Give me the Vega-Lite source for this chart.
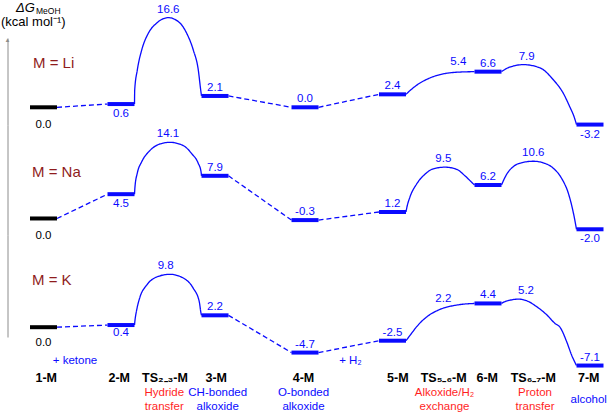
{
  "$schema": "https://vega.github.io/schema/vega-lite/v6.json",
  "description": "Free energy profiles for ketone hydrogenation with M = Li, Na, K.",
  "padding": {"top": 2, "left": 0, "right": 0, "bottom": 0},
  "spacing": 0,
  "bounds": "flush",
  "background": "white",
  "resolve": {"scale": {"x": "independent", "y": "independent"}},
  "config": {
    "view": {"stroke": null},
    "text": {"font": "Liberation Sans"},
    "locale": {"number": {"decimal": ".", "thousands": ",", "grouping": [3], "currency": ["$", ""], "minus": "-"}}
  },
  "datasets": {
    "levels": [
      {"metal": "Li", "state": "1-M", "rc": 4.35, "G": 0.0, "side": "start"},
      {"metal": "Li", "state": "2-M", "rc": 12.1, "G": 0.6, "side": "below"},
      {"metal": "Li", "state": "3-M", "rc": 21.5, "G": 2.1, "side": "above"},
      {"metal": "Li", "state": "4-M", "rc": 30.5, "G": 0.0, "side": "above"},
      {"metal": "Li", "state": "5-M", "rc": 39.25, "G": 2.4, "side": "above"},
      {"metal": "Li", "state": "6-M", "rc": 48.8, "G": 6.6, "side": "above"},
      {"metal": "Li", "state": "7-M", "rc": 59.0, "G": -3.2, "side": "below"},
      {"metal": "Na", "state": "1-M", "rc": 4.35, "G": 0.0, "side": "start"},
      {"metal": "Na", "state": "2-M", "rc": 12.1, "G": 4.5, "side": "below"},
      {"metal": "Na", "state": "3-M", "rc": 21.5, "G": 7.9, "side": "above"},
      {"metal": "Na", "state": "4-M", "rc": 30.5, "G": -0.3, "side": "above"},
      {"metal": "Na", "state": "5-M", "rc": 39.25, "G": 1.2, "side": "above"},
      {"metal": "Na", "state": "6-M", "rc": 48.8, "G": 6.2, "side": "above"},
      {"metal": "Na", "state": "7-M", "rc": 59.0, "G": -2.0, "side": "below"},
      {"metal": "K", "state": "1-M", "rc": 4.35, "G": 0.0, "side": "start"},
      {"metal": "K", "state": "2-M", "rc": 12.1, "G": 0.4, "side": "below"},
      {"metal": "K", "state": "3-M", "rc": 21.5, "G": 2.2, "side": "above"},
      {"metal": "K", "state": "4-M", "rc": 30.5, "G": -4.7, "side": "above"},
      {"metal": "K", "state": "5-M", "rc": 39.25, "G": -2.5, "side": "above"},
      {"metal": "K", "state": "6-M", "rc": 48.8, "G": 4.4, "side": "above"},
      {"metal": "K", "state": "7-M", "rc": 59.0, "G": -7.1, "side": "above"}
    ],
    "ts": [
      {"metal": "Li", "state": "TS2-3", "rc": 16.83, "G": 16.6, "side": "peak"},
      {"metal": "Li", "state": "TS5-6", "rc": 45.83, "G": 5.4, "side": "high"},
      {"metal": "Li", "state": "TS6-7", "rc": 52.67, "G": 7.9, "side": "peak"},
      {"metal": "Na", "state": "TS2-3", "rc": 16.8, "G": 14.1, "side": "peak"},
      {"metal": "Na", "state": "TS5-6", "rc": 44.33, "G": 9.5, "side": "peak"},
      {"metal": "Na", "state": "TS6-7", "rc": 53.33, "G": 10.6, "side": "peak"},
      {"metal": "K", "state": "TS2-3", "rc": 16.57, "G": 9.8, "side": "peak"},
      {"metal": "K", "state": "TS5-6", "rc": 44.33, "G": 2.2, "side": "high"},
      {"metal": "K", "state": "TS6-7", "rc": 52.6, "G": 5.2, "side": "peak"}
    ],
    "paths": [
      {"metal": "Li", "seg": "a", "kind": "dash", "rc": 5.7, "G": 0.0},
      {"metal": "Li", "seg": "a", "kind": "dash", "rc": 10.75, "G": 0.6},
      {"metal": "Li", "seg": "b", "kind": "curve", "rc": 13.45, "G": 0.6},
      {"metal": "Li", "seg": "b", "kind": "curve", "rc": 13.47, "G": 3.2},
      {"metal": "Li", "seg": "b", "kind": "curve", "rc": 13.73, "G": 6.9},
      {"metal": "Li", "seg": "b", "kind": "curve", "rc": 14.17, "G": 10.6},
      {"metal": "Li", "seg": "b", "kind": "curve", "rc": 14.83, "G": 13.7},
      {"metal": "Li", "seg": "b", "kind": "curve", "rc": 15.67, "G": 15.6},
      {"metal": "Li", "seg": "b", "kind": "curve", "rc": 16.83, "G": 16.6},
      {"metal": "Li", "seg": "b", "kind": "curve", "rc": 18.0, "G": 15.6},
      {"metal": "Li", "seg": "b", "kind": "curve", "rc": 18.67, "G": 13.7},
      {"metal": "Li", "seg": "b", "kind": "curve", "rc": 19.33, "G": 10.6},
      {"metal": "Li", "seg": "b", "kind": "curve", "rc": 19.83, "G": 6.9},
      {"metal": "Li", "seg": "b", "kind": "curve", "rc": 20.07, "G": 3.2},
      {"metal": "Li", "seg": "b", "kind": "curve", "rc": 20.15, "G": 2.1},
      {"metal": "Li", "seg": "c", "kind": "dash", "rc": 22.85, "G": 2.1},
      {"metal": "Li", "seg": "c", "kind": "dash", "rc": 29.15, "G": 0.0},
      {"metal": "Li", "seg": "d", "kind": "dash", "rc": 31.85, "G": 0.0},
      {"metal": "Li", "seg": "d", "kind": "dash", "rc": 37.9, "G": 2.4},
      {"metal": "Li", "seg": "e", "kind": "curve", "rc": 40.6, "G": 2.4},
      {"metal": "Li", "seg": "e", "kind": "curve", "rc": 41.0, "G": 3.1},
      {"metal": "Li", "seg": "e", "kind": "curve", "rc": 41.6, "G": 4.0},
      {"metal": "Li", "seg": "e", "kind": "curve", "rc": 42.7, "G": 5.2},
      {"metal": "Li", "seg": "e", "kind": "curve", "rc": 44.0, "G": 6.05},
      {"metal": "Li", "seg": "e", "kind": "curve", "rc": 45.7, "G": 6.5},
      {"metal": "Li", "seg": "e", "kind": "curve", "rc": 47.45, "G": 6.6},
      {"metal": "Li", "seg": "f", "kind": "curve", "rc": 50.15, "G": 6.6},
      {"metal": "Li", "seg": "f", "kind": "curve", "rc": 50.67, "G": 7.2},
      {"metal": "Li", "seg": "f", "kind": "curve", "rc": 51.33, "G": 7.65},
      {"metal": "Li", "seg": "f", "kind": "curve", "rc": 52.33, "G": 7.9},
      {"metal": "Li", "seg": "f", "kind": "curve", "rc": 54.0, "G": 7.3},
      {"metal": "Li", "seg": "f", "kind": "curve", "rc": 55.33, "G": 5.1},
      {"metal": "Li", "seg": "f", "kind": "curve", "rc": 56.33, "G": 2.6},
      {"metal": "Li", "seg": "f", "kind": "curve", "rc": 57.0, "G": 0.0},
      {"metal": "Li", "seg": "f", "kind": "curve", "rc": 57.4, "G": -1.7},
      {"metal": "Li", "seg": "f", "kind": "curve", "rc": 57.65, "G": -3.2},
      {"metal": "Na", "seg": "a", "kind": "dash", "rc": 5.7, "G": 0.0},
      {"metal": "Na", "seg": "a", "kind": "dash", "rc": 10.75, "G": 4.5},
      {"metal": "Na", "seg": "b", "kind": "curve", "rc": 13.45, "G": 4.5},
      {"metal": "Na", "seg": "b", "kind": "curve", "rc": 13.5, "G": 5.9},
      {"metal": "Na", "seg": "b", "kind": "curve", "rc": 13.73, "G": 8.4},
      {"metal": "Na", "seg": "b", "kind": "curve", "rc": 14.17, "G": 10.5},
      {"metal": "Na", "seg": "b", "kind": "curve", "rc": 15.0, "G": 12.6},
      {"metal": "Na", "seg": "b", "kind": "curve", "rc": 16.0, "G": 13.8},
      {"metal": "Na", "seg": "b", "kind": "curve", "rc": 17.0, "G": 14.1},
      {"metal": "Na", "seg": "b", "kind": "curve", "rc": 18.33, "G": 13.5},
      {"metal": "Na", "seg": "b", "kind": "curve", "rc": 19.17, "G": 12.0},
      {"metal": "Na", "seg": "b", "kind": "curve", "rc": 19.83, "G": 10.2},
      {"metal": "Na", "seg": "b", "kind": "curve", "rc": 20.1, "G": 8.7},
      {"metal": "Na", "seg": "b", "kind": "curve", "rc": 20.15, "G": 7.9},
      {"metal": "Na", "seg": "c", "kind": "dash", "rc": 22.85, "G": 7.9},
      {"metal": "Na", "seg": "c", "kind": "dash", "rc": 29.15, "G": -0.3},
      {"metal": "Na", "seg": "d", "kind": "dash", "rc": 31.85, "G": -0.3},
      {"metal": "Na", "seg": "d", "kind": "dash", "rc": 37.9, "G": 1.2},
      {"metal": "Na", "seg": "e", "kind": "curve", "rc": 40.6, "G": 1.2},
      {"metal": "Na", "seg": "e", "kind": "curve", "rc": 40.67, "G": 1.9},
      {"metal": "Na", "seg": "e", "kind": "curve", "rc": 41.0, "G": 4.0},
      {"metal": "Na", "seg": "e", "kind": "curve", "rc": 41.67, "G": 6.4},
      {"metal": "Na", "seg": "e", "kind": "curve", "rc": 42.5, "G": 8.2},
      {"metal": "Na", "seg": "e", "kind": "curve", "rc": 43.33, "G": 9.2},
      {"metal": "Na", "seg": "e", "kind": "curve", "rc": 44.5, "G": 9.5},
      {"metal": "Na", "seg": "e", "kind": "curve", "rc": 45.67, "G": 9.1},
      {"metal": "Na", "seg": "e", "kind": "curve", "rc": 46.5, "G": 7.9},
      {"metal": "Na", "seg": "e", "kind": "curve", "rc": 47.17, "G": 6.7},
      {"metal": "Na", "seg": "e", "kind": "curve", "rc": 47.45, "G": 6.2},
      {"metal": "Na", "seg": "f", "kind": "curve", "rc": 50.15, "G": 6.2},
      {"metal": "Na", "seg": "f", "kind": "curve", "rc": 50.67, "G": 8.2},
      {"metal": "Na", "seg": "f", "kind": "curve", "rc": 51.33, "G": 9.6},
      {"metal": "Na", "seg": "f", "kind": "curve", "rc": 52.33, "G": 10.4},
      {"metal": "Na", "seg": "f", "kind": "curve", "rc": 53.33, "G": 10.6},
      {"metal": "Na", "seg": "f", "kind": "curve", "rc": 54.33, "G": 10.3},
      {"metal": "Na", "seg": "f", "kind": "curve", "rc": 55.33, "G": 9.3},
      {"metal": "Na", "seg": "f", "kind": "curve", "rc": 56.17, "G": 7.4},
      {"metal": "Na", "seg": "f", "kind": "curve", "rc": 56.83, "G": 4.7},
      {"metal": "Na", "seg": "f", "kind": "curve", "rc": 57.27, "G": 1.6},
      {"metal": "Na", "seg": "f", "kind": "curve", "rc": 57.45, "G": 0.0},
      {"metal": "Na", "seg": "f", "kind": "curve", "rc": 57.65, "G": -2.0},
      {"metal": "K", "seg": "a", "kind": "dash", "rc": 5.7, "G": 0.0},
      {"metal": "K", "seg": "a", "kind": "dash", "rc": 10.75, "G": 0.4},
      {"metal": "K", "seg": "b", "kind": "curve", "rc": 13.45, "G": 0.4},
      {"metal": "K", "seg": "b", "kind": "curve", "rc": 13.5, "G": 1.3},
      {"metal": "K", "seg": "b", "kind": "curve", "rc": 13.67, "G": 3.2},
      {"metal": "K", "seg": "b", "kind": "curve", "rc": 14.0, "G": 5.6},
      {"metal": "K", "seg": "b", "kind": "curve", "rc": 14.67, "G": 7.8},
      {"metal": "K", "seg": "b", "kind": "curve", "rc": 15.67, "G": 9.3},
      {"metal": "K", "seg": "b", "kind": "curve", "rc": 17.0, "G": 9.8},
      {"metal": "K", "seg": "b", "kind": "curve", "rc": 18.33, "G": 9.1},
      {"metal": "K", "seg": "b", "kind": "curve", "rc": 19.33, "G": 7.2},
      {"metal": "K", "seg": "b", "kind": "curve", "rc": 19.93, "G": 4.7},
      {"metal": "K", "seg": "b", "kind": "curve", "rc": 20.1, "G": 2.6},
      {"metal": "K", "seg": "b", "kind": "curve", "rc": 20.15, "G": 2.2},
      {"metal": "K", "seg": "c", "kind": "dash", "rc": 22.85, "G": 2.2},
      {"metal": "K", "seg": "c", "kind": "dash", "rc": 29.15, "G": -4.7},
      {"metal": "K", "seg": "d", "kind": "dash", "rc": 31.85, "G": -4.7},
      {"metal": "K", "seg": "d", "kind": "dash", "rc": 37.9, "G": -2.5},
      {"metal": "K", "seg": "e", "kind": "curve", "rc": 40.6, "G": -2.5},
      {"metal": "K", "seg": "e", "kind": "curve", "rc": 41.17, "G": -1.1},
      {"metal": "K", "seg": "e", "kind": "curve", "rc": 41.67, "G": 0.1},
      {"metal": "K", "seg": "e", "kind": "curve", "rc": 42.67, "G": 1.9},
      {"metal": "K", "seg": "e", "kind": "curve", "rc": 44.0, "G": 3.3},
      {"metal": "K", "seg": "e", "kind": "curve", "rc": 45.67, "G": 4.1},
      {"metal": "K", "seg": "e", "kind": "curve", "rc": 47.45, "G": 4.4},
      {"metal": "K", "seg": "f", "kind": "curve", "rc": 50.15, "G": 4.4},
      {"metal": "K", "seg": "f", "kind": "curve", "rc": 50.33, "G": 4.6},
      {"metal": "K", "seg": "f", "kind": "curve", "rc": 51.0, "G": 5.0},
      {"metal": "K", "seg": "f", "kind": "curve", "rc": 51.83, "G": 5.2},
      {"metal": "K", "seg": "f", "kind": "curve", "rc": 52.67, "G": 4.9},
      {"metal": "K", "seg": "f", "kind": "curve", "rc": 53.67, "G": 3.8},
      {"metal": "K", "seg": "f", "kind": "curve", "rc": 54.67, "G": 2.3},
      {"metal": "K", "seg": "f", "kind": "curve", "rc": 55.5, "G": 0.7},
      {"metal": "K", "seg": "f", "kind": "curve", "rc": 56.0, "G": 0.0},
      {"metal": "K", "seg": "f", "kind": "curve", "rc": 56.67, "G": -2.7},
      {"metal": "K", "seg": "f", "kind": "curve", "rc": 57.17, "G": -5.2},
      {"metal": "K", "seg": "f", "kind": "curve", "rc": 57.65, "G": -7.1}
    ],
    "names": [
      {"row": "add", "rc": 7.5, "text": "+ ketone", "lines": 1},
      {"row": "add", "rc": 35.05, "text": "+ H₂", "lines": 1},
      {"row": "state", "rc": 4.62, "text": "1-M", "lines": 1},
      {"row": "state", "rc": 11.92, "text": "2-M", "lines": 1},
      {"row": "state", "rc": 16.5, "text": "TS₂₋₃-M", "lines": 1},
      {"row": "state", "rc": 21.62, "text": "3-M", "lines": 1},
      {"row": "state", "rc": 30.35, "text": "4-M", "lines": 1},
      {"row": "state", "rc": 39.78, "text": "5-M", "lines": 1},
      {"row": "state", "rc": 44.37, "text": "TS₅₋₆-M", "lines": 1},
      {"row": "state", "rc": 48.72, "text": "6-M", "lines": 1},
      {"row": "state", "rc": 53.33, "text": "TS₆₋₇-M", "lines": 1},
      {"row": "state", "rc": 58.87, "text": "7-M", "lines": 1},
      {"row": "desc", "type": "ts", "rc": 16.43, "text": "Hydride\ntransfer", "lines": 2},
      {"row": "desc", "type": "int", "rc": 21.77, "text": "CH-bonded\nalkoxide", "lines": 2},
      {"row": "desc", "type": "int", "rc": 30.35, "text": "O-bonded\nalkoxide", "lines": 2},
      {"row": "desc", "type": "ts", "rc": 44.45, "text": "Alkoxide/H₂\nexchange", "lines": 2},
      {"row": "desc", "type": "ts", "rc": 53.5, "text": "Proton\ntransfer", "lines": 2},
      {"row": "desc", "type": "int", "rc": 58.87, "text": "alcohol", "lines": 1}
    ]
  },
  "vconcat": [
    {
      "width": 614,
      "height": 87,
      "encoding": {
        "x": {"field": "rc", "type": "quantitative", "scale": {"domain": [0, 61.4], "nice": false, "zero": false}, "axis": null},
        "y": {"field": "G", "type": "quantitative", "scale": {"domain": [-3.278, 12.833], "nice": false, "zero": false},
              "axis": {"domain": true, "domainColor": "#8c8c8c", "domainWidth": 1, "ticks": false, "labels": false, "grid": false, "title": null, "offset": -7.5}}
      },
      "layer": [
        {
          "data": {"values": [{"note": "Li zero line"}]},
          "mark": {"type": "rule", "color": "#333333", "strokeDash": [4, 3], "strokeWidth": 1},
          "encoding": {
            "x": {"datum": 5.73, "type": "quantitative", "axis": null},
            "x2": {"datum": 61.4},
            "y": {"datum": 0, "type": "quantitative", "axis": {"domain": true, "domainColor": "#8c8c8c", "domainWidth": 1, "ticks": false, "labels": false, "grid": false, "title": null, "offset": -7.5}}
          }
        },
        {
          "data": {"name": "paths"},
          "transform": [{"filter": "datum.metal === 'Li'"}],
          "mark": {"type": "line", "interpolate": "monotone", "strokeWidth": 1.3, "color": "#0a0aff"},
          "encoding": {
            "detail": {"field": "seg"},
            "strokeDash": {"field": "kind", "type": "nominal", "scale": {"domain": ["curve", "dash"], "range": [[1, 0], [5, 3]]}, "legend": null}
          }
        },
        {
          "data": {"name": "levels"},
          "transform": [{"filter": "datum.metal === 'Li'"}],
          "mark": {"type": "tick", "orient": "horizontal", "size": 27, "thickness": 4, "opacity": 1},
          "encoding": {"color": {"condition": {"test": "datum.state === '1-M'", "value": "#000000"}, "value": "#0a0aff"}}
        },
        {
          "data": {"name": "levels"},
          "transform": [{"filter": "datum.metal === 'Li' && datum.side === 'above'"}],
          "mark": {"type": "text", "fontSize": 11.5, "color": "#0a0aff", "baseline": "middle", "dy": -8},
          "encoding": {"text": {"field": "G", "type": "quantitative", "format": ".1f"}}
        },
        {
          "data": {"name": "levels"},
          "transform": [{"filter": "datum.metal === 'Li' && datum.side === 'below'"}],
          "mark": {"type": "text", "fontSize": 11.5, "color": "#0a0aff", "baseline": "middle", "dy": 10},
          "encoding": {"text": {"field": "G", "type": "quantitative", "format": ".1f"}}
        },
        {
          "data": {"name": "levels"},
          "transform": [{"filter": "datum.metal === 'Li' && datum.side === 'start'"}],
          "mark": {"type": "text", "fontSize": 11.5, "color": "#000000", "baseline": "middle", "dy": 18},
          "encoding": {"text": {"field": "G", "type": "quantitative", "format": ".1f"}}
        },
        {
          "data": {"name": "ts"},
          "transform": [{"filter": "datum.metal === 'Li' && datum.side === 'peak'"}],
          "mark": {"type": "text", "fontSize": 11.5, "color": "#0a0aff", "baseline": "middle", "dy": -8},
          "encoding": {"text": {"field": "G", "type": "quantitative", "format": ".1f"}}
        },
        {
          "data": {"name": "ts"},
          "transform": [{"filter": "datum.metal === 'Li' && datum.side === 'high'"}],
          "mark": {"type": "text", "fontSize": 11.5, "color": "#0a0aff", "baseline": "middle", "dy": -16},
          "encoding": {"text": {"field": "G", "type": "quantitative", "format": ".1f"}}
        },
        {
          "data": {"name": "levels"},
          "transform": [{"filter": "datum.metal === 'Li' && datum.state === '1-M'"}],
          "mark": {"type": "text", "text": {"expr": "'M = ' + datum.metal"}, "fontSize": 15, "color": "#8f1c1c", "align": "left", "baseline": "middle", "dx": -10.5, "dy": -44.3}
        },
        {
          "data": {"name": "levels"},
          "transform": [{"filter": "datum.metal === 'Li' && datum.state === '1-M'"}],
          "mark": {"type": "text", "text": "ΔG", "fontSize": 13, "fontStyle": "italic", "color": "#000000", "align": "left", "baseline": "middle", "dx": -27.5, "dy": -98.8}
        },
        {
          "data": {"name": "levels"},
          "transform": [{"filter": "datum.metal === 'Li' && datum.state === '1-M'"}],
          "mark": {"type": "text", "text": "MeOH", "fontSize": 8.5, "color": "#000000", "align": "left", "baseline": "middle", "dx": -7.5, "dy": -96.3}
        },
        {
          "data": {"name": "levels"},
          "transform": [{"filter": "datum.metal === 'Li' && datum.state === '1-M'"}],
          "mark": {"type": "text", "text": "(kcal mol⁻¹)", "fontSize": 13, "color": "#000000", "align": "left", "baseline": "middle", "dx": -42.5, "dy": -85.3}
        },
        {
          "data": {"name": "levels"},
          "transform": [{"filter": "datum.metal === 'Li' && datum.state === '1-M'"}],
          "mark": {"type": "text", "text": "▲", "fontSize": 6, "color": "#8c8c8c", "align": "center", "baseline": "middle", "dx": -36, "dy": -67.5}
        }
      ]
    },
    {
      "width": 614,
      "height": 110,
      "encoding": {
        "x": {"field": "rc", "type": "quantitative", "scale": {"domain": [0, 61.4], "nice": false, "zero": false}, "axis": null},
        "y": {"field": "G", "type": "quantitative", "scale": {"domain": [-3.06, 17.31], "nice": false, "zero": false},
              "axis": {"domain": true, "domainColor": "#8c8c8c", "domainWidth": 1, "ticks": false, "labels": false, "grid": false, "title": null, "offset": -7.5}}
      },
      "layer": [
        {
          "data": {"values": [{"note": "Na zero line"}]},
          "mark": {"type": "rule", "color": "#333333", "strokeDash": [4, 3], "strokeWidth": 1},
          "encoding": {
            "x": {"datum": 5.73, "type": "quantitative", "axis": null},
            "x2": {"datum": 61.4},
            "y": {"datum": 0, "type": "quantitative", "axis": {"domain": true, "domainColor": "#8c8c8c", "domainWidth": 1, "ticks": false, "labels": false, "grid": false, "title": null, "offset": -7.5}}
          }
        },
        {
          "data": {"name": "paths"},
          "transform": [{"filter": "datum.metal === 'Na'"}],
          "mark": {"type": "line", "interpolate": "monotone", "strokeWidth": 1.3, "color": "#0a0aff"},
          "encoding": {
            "detail": {"field": "seg"},
            "strokeDash": {"field": "kind", "type": "nominal", "scale": {"domain": ["curve", "dash"], "range": [[1, 0], [5, 3]]}, "legend": null}
          }
        },
        {
          "data": {"name": "levels"},
          "transform": [{"filter": "datum.metal === 'Na'"}],
          "mark": {"type": "tick", "orient": "horizontal", "size": 27, "thickness": 4, "opacity": 1},
          "encoding": {"color": {"condition": {"test": "datum.state === '1-M'", "value": "#000000"}, "value": "#0a0aff"}}
        },
        {
          "data": {"name": "levels"},
          "transform": [{"filter": "datum.metal === 'Na' && datum.side === 'above'"}],
          "mark": {"type": "text", "fontSize": 11.5, "color": "#0a0aff", "baseline": "middle", "dy": -8},
          "encoding": {"text": {"field": "G", "type": "quantitative", "format": ".1f"}}
        },
        {
          "data": {"name": "levels"},
          "transform": [{"filter": "datum.metal === 'Na' && datum.side === 'below'"}],
          "mark": {"type": "text", "fontSize": 11.5, "color": "#0a0aff", "baseline": "middle", "dy": 10},
          "encoding": {"text": {"field": "G", "type": "quantitative", "format": ".1f"}}
        },
        {
          "data": {"name": "levels"},
          "transform": [{"filter": "datum.metal === 'Na' && datum.side === 'start'"}],
          "mark": {"type": "text", "fontSize": 11.5, "color": "#000000", "baseline": "middle", "dy": 18},
          "encoding": {"text": {"field": "G", "type": "quantitative", "format": ".1f"}}
        },
        {
          "data": {"name": "ts"},
          "transform": [{"filter": "datum.metal === 'Na' && datum.side === 'peak'"}],
          "mark": {"type": "text", "fontSize": 11.5, "color": "#0a0aff", "baseline": "middle", "dy": -8},
          "encoding": {"text": {"field": "G", "type": "quantitative", "format": ".1f"}}
        },
        {
          "data": {"name": "levels"},
          "transform": [{"filter": "datum.metal === 'Na' && datum.state === '1-M'"}],
          "mark": {"type": "text", "text": {"expr": "'M = ' + datum.metal"}, "fontSize": 15, "color": "#8f1c1c", "align": "left", "baseline": "middle", "dx": -11.5, "dy": -46.5}
        }
      ]
    },
    {
      "width": 614,
      "height": 102,
      "encoding": {
        "x": {"field": "rc", "type": "quantitative", "scale": {"domain": [0, 61.4], "nice": false, "zero": false}, "axis": null},
        "y": {"field": "G", "type": "quantitative", "scale": {"domain": [-1.815, 17.074], "nice": false, "zero": false},
              "axis": {"domain": true, "domainColor": "#8c8c8c", "domainWidth": 1, "ticks": false, "labels": false, "grid": false, "title": null, "offset": -7.5}}
      },
      "layer": [
        {
          "data": {"values": [{"note": "K zero line"}]},
          "mark": {"type": "rule", "color": "#333333", "strokeDash": [4, 3], "strokeWidth": 1},
          "encoding": {
            "x": {"datum": 5.73, "type": "quantitative", "axis": null},
            "x2": {"datum": 61.4},
            "y": {"datum": 0, "type": "quantitative", "axis": {"domain": true, "domainColor": "#8c8c8c", "domainWidth": 1, "ticks": false, "labels": false, "grid": false, "title": null, "offset": -7.5}}
          }
        },
        {
          "data": {"name": "paths"},
          "transform": [{"filter": "datum.metal === 'K'"}],
          "mark": {"type": "line", "interpolate": "monotone", "strokeWidth": 1.3, "color": "#0a0aff"},
          "encoding": {
            "detail": {"field": "seg"},
            "strokeDash": {"field": "kind", "type": "nominal", "scale": {"domain": ["curve", "dash"], "range": [[1, 0], [5, 3]]}, "legend": null}
          }
        },
        {
          "data": {"name": "levels"},
          "transform": [{"filter": "datum.metal === 'K'"}],
          "mark": {"type": "tick", "orient": "horizontal", "size": 27, "thickness": 4, "opacity": 1},
          "encoding": {"color": {"condition": {"test": "datum.state === '1-M'", "value": "#000000"}, "value": "#0a0aff"}}
        },
        {
          "data": {"name": "levels"},
          "transform": [{"filter": "datum.metal === 'K' && datum.side === 'above'"}],
          "mark": {"type": "text", "fontSize": 11.5, "color": "#0a0aff", "baseline": "middle", "dy": -8},
          "encoding": {"text": {"field": "G", "type": "quantitative", "format": ".1f"}}
        },
        {
          "data": {"name": "levels"},
          "transform": [{"filter": "datum.metal === 'K' && datum.side === 'below'"}],
          "mark": {"type": "text", "fontSize": 11.5, "color": "#0a0aff", "baseline": "middle", "dy": 8},
          "encoding": {"text": {"field": "G", "type": "quantitative", "format": ".1f"}}
        },
        {
          "data": {"name": "levels"},
          "transform": [{"filter": "datum.metal === 'K' && datum.side === 'start'"}],
          "mark": {"type": "text", "fontSize": 11.5, "color": "#000000", "baseline": "middle", "dy": 16},
          "encoding": {"text": {"field": "G", "type": "quantitative", "format": ".1f"}}
        },
        {
          "data": {"name": "ts"},
          "transform": [{"filter": "datum.metal === 'K' && datum.side === 'peak'"}],
          "mark": {"type": "text", "fontSize": 11.5, "color": "#0a0aff", "baseline": "middle", "dy": -8},
          "encoding": {"text": {"field": "G", "type": "quantitative", "format": ".1f"}}
        },
        {
          "data": {"name": "ts"},
          "transform": [{"filter": "datum.metal === 'K' && datum.side === 'high'"}],
          "mark": {"type": "text", "fontSize": 11.5, "color": "#0a0aff", "baseline": "middle", "dy": -16},
          "encoding": {"text": {"field": "G", "type": "quantitative", "format": ".1f"}}
        },
        {
          "data": {"name": "levels"},
          "transform": [{"filter": "datum.metal === 'K' && datum.state === '1-M'"}],
          "mark": {"type": "text", "text": {"expr": "'M = ' + datum.metal"}, "fontSize": 15, "color": "#8f1c1c", "align": "left", "baseline": "middle", "dx": -11.5, "dy": -47.2}
        }
      ]
    },
    {
      "width": 614,
      "height": 78,
      "data": {"name": "names"},
      "encoding": {
        "x": {"field": "rc", "type": "quantitative", "scale": {"domain": [0, 61.4], "nice": false, "zero": false}, "axis": null},
        "y": {"field": "row", "type": "nominal", "scale": {"type": "point", "domain": ["add", "state", "desc"], "padding": 0.5}, "axis": null},
        "text": {"field": "text"}
      },
      "layer": [
        {
          "transform": [{"filter": "datum.row === 'add'"}],
          "mark": {"type": "text", "fontSize": 11.5, "color": "#0a0aff", "baseline": "middle", "dy": 10.5}
        },
        {
          "transform": [{"filter": "datum.row === 'state'"}],
          "mark": {"type": "text", "fontSize": 12.5, "fontWeight": "bold", "color": "#000000", "baseline": "middle", "dy": 1.5}
        },
        {
          "transform": [{"filter": "datum.row === 'desc' && datum.lines === 2"}],
          "mark": {"type": "text", "fontSize": 11.5, "baseline": "middle", "dy": -9, "lineBreak": "\n", "lineHeight": 14},
          "encoding": {
            "color": {"field": "type", "type": "nominal", "scale": {"domain": ["ts", "int"], "range": ["#ff1f1f", "#0a0aff"]}, "legend": null}
          }
        },
        {
          "transform": [{"filter": "datum.row === 'desc' && datum.lines === 1"}],
          "mark": {"type": "text", "fontSize": 11.5, "baseline": "middle", "dy": -2},
          "encoding": {
            "color": {"field": "type", "type": "nominal", "scale": {"domain": ["ts", "int"], "range": ["#ff1f1f", "#0a0aff"]}, "legend": null}
          }
        }
      ]
    }
  ]
}
